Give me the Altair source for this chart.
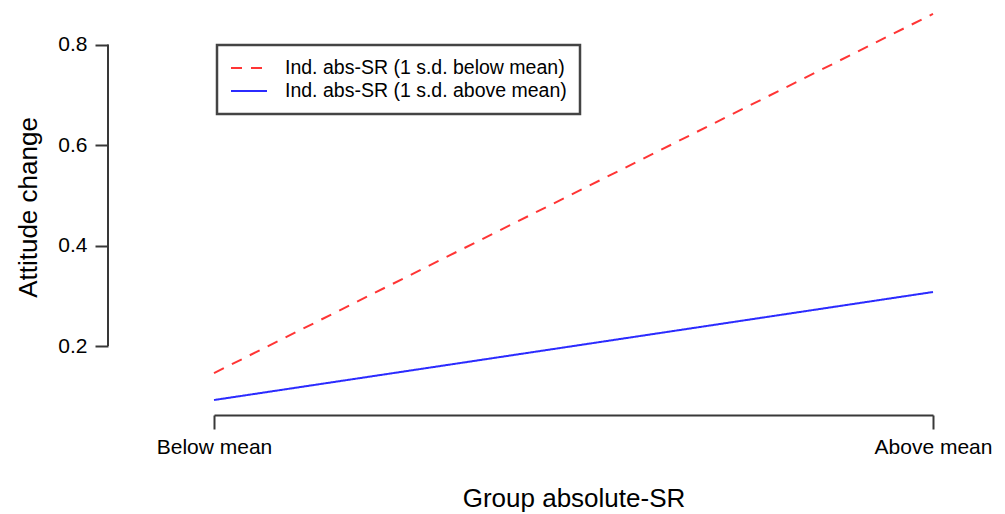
import altair as alt
import pandas as pd

# ---- data ----
groups = ["Below mean", "Above mean"]
series_names = ["Ind. abs-SR (1 s.d. below mean)", "Ind. abs-SR (1 s.d. above mean)"]
below_sd_values = [0.146, 0.861]
above_sd_values = [0.0925, 0.3075]
y_ticks = [0.2, 0.4, 0.6, 0.8]
y_domain = [0.0627, 0.8687]

rows = []
for g, v in zip(groups, below_sd_values):
    rows.append({"group": g, "series": series_names[0], "value": v})
for g, v in zip(groups, above_sd_values):
    rows.append({"group": g, "series": series_names[1], "value": v})
df = pd.DataFrame(rows)

yaxis_df = pd.DataFrame({"value": [y_ticks[0]], "value2": [y_ticks[-1]]})

FONT = "Liberation Sans"
AXIS_COLOR = "#383838"

y_axis = alt.Axis(
    title="Attitude change",
    values=y_ticks,
    format=".1f",
    offset=106,
    domain=False,
    grid=False,
    tickSize=13,
    tickWidth=2,
    tickColor=AXIS_COLOR,
    labelFontSize=21,
    labelPadding=8,
    titleFontSize=26,
    titlePadding=16,
    titleY=197,
)
y_scale = alt.Scale(domain=y_domain, nice=False, zero=False)

legend = alt.Legend(title=None)

lines = alt.Chart(df).mark_line(strokeWidth=2).encode(
    x=alt.X(
        "group:N",
        sort=groups,
        scale=alt.Scale(type="point", padding=0),
        axis=alt.Axis(
            title="Group absolute-SR",
            labelAngle=0,
            grid=False,
            tickSize=14,
            tickWidth=2,
            tickColor=AXIS_COLOR,
            domainColor=AXIS_COLOR,
            domainWidth=2,
            labelFontSize=21,
            labelPadding=7,
            titleFontSize=26,
            titlePadding=28,
        ),
    ),
    y=alt.Y("value:Q", scale=y_scale, axis=y_axis),
    color=alt.Color(
        "series:N",
        scale=alt.Scale(domain=series_names, range=["#ff3535", "#2b2bff"]),
        legend=legend,
    ),
    strokeDash=alt.StrokeDash(
        "series:N",
        scale=alt.Scale(domain=series_names, range=[[11, 9], [1, 0]]),
        legend=legend,
    ),
)

y_rule = alt.Chart(yaxis_df).mark_rule(color=AXIS_COLOR, strokeWidth=2, clip=False).encode(
    x=alt.value(-106),
    y=alt.Y("value:Q", scale=y_scale, axis=y_axis),
    y2="value2:Q",
)

chart = (
    alt.layer(lines, y_rule)
    .properties(
        width=719,
        height=405,
        padding={"left": 206, "top": 2, "right": 60, "bottom": 99},
        autosize=alt.AutoSizeParams(type="none"),
        background="white",
    )
    .configure_view(stroke=None)
    .configure_axis(
        labelFont=FONT,
        titleFont=FONT,
        labelColor="#000000",
        titleColor="#000000",
        titleFontWeight="normal",
    )
    .configure_legend(
        orient="none",
        legendX=3,
        legendY=35,
        symbolType="M-1,0L3,0",
        symbolSize=324,
        symbolStrokeWidth=2,
        labelFont=FONT,
        labelFontSize=19.5,
        labelColor="#000000",
        labelLimit=500,
        labelOffset=35,
        padding=13,
        rowPadding=3,
        strokeColor="#444444",
        strokeWidth=2.5,
        fillColor="white",
    )
)

chart.save("out.html", embed_options={"renderer": "svg", "actions": False})
